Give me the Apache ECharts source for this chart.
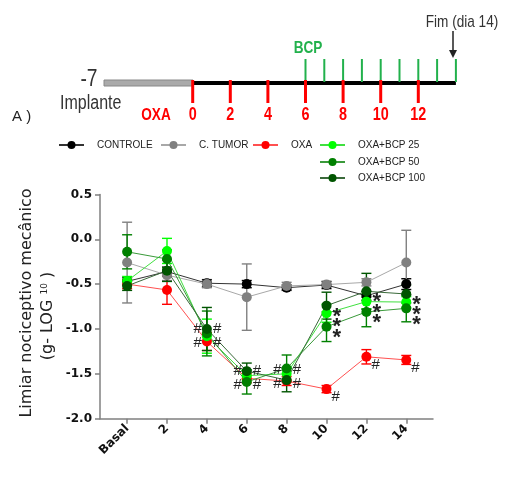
<!DOCTYPE html>
<html><head><meta charset="utf-8">
<script src="https://cdn.jsdelivr.net/npm/echarts@6/dist/echarts.min.js"></script>
<style>html,body{margin:0;padding:0;background:#fff}#c{width:505px;height:477px}</style>
</head><body><div id="c"></div>
<script>
// ---- data ----
const categories = ["Basal", "2", "4", "6", "8", "10", "12", "14"];
const yTicks = [-2.0, -1.5, -1.0, -0.5, 0.0, 0.5];

const controle    = [-0.47, -0.36, -0.49, -0.50, -0.54, -0.51, -0.63, -0.50];
const controleErr = [0.04, 0.05, 0.04, 0.04, 0.03, 0.04, 0.05, 0.06];
const controleSig = ["", "", "", "", "", "", "", ""];

const cTumor    = [-0.26, -0.40, -0.50, -0.645, -0.52, -0.505, -0.48, -0.26];
const cTumorErr = [0.45, 0.06, 0.04, 0.37, 0.04, 0.03, 0.04, 0.36];
const cTumorSig = ["", "", "", "", "", "", "", ""];

const oxa    = [-0.50, -0.565, -1.14, -1.55, -1.58, -1.67, -1.31, -1.345];
const oxaErr = [0.05, 0.16, 0.10, 0.05, 0.05, 0.04, 0.08, 0.05];
const oxaSig = ["", "", "#", "#", "#", "#", "#", "#"];

const bcp25    = [-0.465, -0.13, -1.08, -1.52, -1.50, -0.825, -0.695, -0.70];
const bcp25Err = [0.05, 0.14, 0.19, 0.06, 0.07, 0.10, 0.08, 0.06];
const bcp25Sig = ["", "", "#", "#", "#", "*", "*", "*"];

const bcp50    = [-0.14, -0.22, -1.05, -1.59, -1.44, -0.975, -0.81, -0.77];
const bcp50Err = [0.19, 0.10, 0.25, 0.135, 0.15, 0.165, 0.165, 0.15];
const bcp50Sig = ["", "", "#", "#", "#", "*", "*", "*"];

const bcp100    = [-0.52, -0.35, -1.00, -1.47, -1.57, -0.74, -0.58, -0.61];
const bcp100Err = [0.05, 0.12, 0.24, 0.09, 0.13, 0.15, 0.20, 0.10];
const bcp100Sig = ["", "", "#", "#", "#", "*", "*", "*"];

// timeline schematic
const oxaDays = [0, 2, 4, 6, 8, 10, 12];
const bcpDays = [6, 7, 8, 9, 10, 11, 12, 13, 14];

// ---- chart ----
const groups = [
  {name: "CONTROLE", color: "#000000", line: "#333333", vals: controle, err: controleErr, sig: controleSig},
  {name: "C. TUMOR", color: "#808080", line: "#a8a8a8", vals: cTumor, err: cTumorErr, sig: cTumorSig},
  {name: "OXA", color: "#ff0000", line: "#ff5050", vals: oxa, err: oxaErr, sig: oxaSig},
  {name: "OXA+BCP 25", color: "#00ff00", line: "#40e040", vals: bcp25, err: bcp25Err, sig: bcp25Sig},
  {name: "OXA+BCP 50", color: "#008000", line: "#3a9a3a", vals: bcp50, err: bcp50Err, sig: bcp50Sig},
  {name: "OXA+BCP 100", color: "#005500", line: "#3a6a3a", vals: bcp100, err: bcp100Err, sig: bcp100Sig}
];

const series = [];
groups.forEach((g, gi) => {
  series.push({
    type: 'custom', silent: true, z: 2,
    data: g.vals.map((v, i) => [i, v - g.err[i], v + g.err[i]]),
    encode: {x: 0, y: [1, 2]},
    renderItem: (params, api) => {
      const x = api.value(0);
      const p1 = api.coord([x, api.value(2)]);
      const p2 = api.coord([x, api.value(1)]);
      const w = 5;
      const st = {stroke: g.color, lineWidth: 1.4};
      return {type: 'group', children: [
        {type: 'line', shape: {x1: p1[0], y1: p1[1], x2: p2[0], y2: p2[1]}, style: st},
        {type: 'line', shape: {x1: p1[0] - w, y1: p1[1], x2: p1[0] + w, y2: p1[1]}, style: st},
        {type: 'line', shape: {x1: p2[0] - w, y1: p2[1], x2: p2[0] + w, y2: p2[1]}, style: st}
      ]};
    }
  });
});
groups.forEach((g, gi) => {
  series.push({
    type: 'line', name: g.name, z: 3,
    data: g.vals.map((v, i) => [i, v]),
    symbol: 'circle', symbolSize: 10,
    itemStyle: {color: g.color, opacity: 1},
    lineStyle: {color: g.line, width: 1},
    emphasis: {disabled: true},
    animation: false
  });
});

// annotations (# and *) computed from data
const anns = [];
const slot = {"OXA+BCP 100": [-1, -1], "OXA+BCP 50": [1, -1], "OXA+BCP 25": [-1, 1], "OXA": [1, 1]};
groups.forEach(g => {
  g.sig.forEach((s, i) => {
    if (!s) return;
    let mode = 'near';
    let groupMean = null;
    if (s === '#' && i >= 2 && i <= 4) {
      const vs = groups.filter(h => h.sig[i] === '#').map(h => h.vals[i]);
      groupMean = vs.reduce((a, b) => a + b, 0) / vs.length;
      mode = 'slot';
    }
    anns.push({x: i, y: g.vals[i], text: s, mode, mean: groupMean, slot: slot[g.name]});
  });
});
// star stacking: order within each day (top to bottom)
const starRank = {};
categories.forEach((c, i) => {
  const st = anns.filter(a => a.text === '*' && a.x === i).sort((a, b) => b.y - a.y);
  st.forEach((a, k) => { a.rank = k; a.firstY = st[0].y; });
});
series.push({
  type: 'custom', silent: true, z: 5,
  data: anns.map(a => [a.x, a.y]),
  encode: {x: 0, y: 1},
  renderItem: (params, api) => {
    const a = anns[params.dataIndex];
    const p = api.coord([a.x, a.y]);
    let x, y, align = 'left';
    if (a.mode === 'slot') {
      const pm = api.coord([a.x, a.mean]);
      y = pm[1] + a.slot[1] * 7 + 1;
      if (a.slot[0] < 0) { x = p[0] - 5; align = 'right'; } else { x = p[0] + 6; }
    } else if (a.text === '*') {
      const p0 = api.coord([a.x, a.firstY]);
      x = p[0] + 6;
      y = Math.max(p[1] + 5, p0[1] + 5 + a.rank * 10) + 6;
    } else {
      x = p[0] + 5;
      y = p[1] + 8;
    }
    const font = a.text === '*' ? 'bold 22px "Liberation Sans", Arial, sans-serif' : '15px "Liberation Sans", Arial, sans-serif';
    return {type: 'text', x, y, style: {text: a.text, font, fill: '#222', align, verticalAlign: 'middle'}};
  }
});

const legendFont = {fontFamily: '"Liberation Sans", Arial, sans-serif', fontSize: 10, color: '#222', padding: [0, 0, 0, 8]};
const legendPos = [[58, 146], [160, 146], [252, 146], [319, 146], [319, 163], [319, 179]];
const legends = groups.map((g, i) => ({
  data: [g.name], left: legendPos[i][0], top: legendPos[i][1] - 6, padding: 0,
  itemWidth: 25, itemHeight: 10, textStyle: legendFont, selectedMode: false
}));

const dayX = d => 192.7 + 18.8 * d;
const narrow = '"Liberation Sans", Arial, sans-serif';
const nt = (text, x, y, size, color, bold, align) => ({
  type: 'text', x, y, scaleX: 0.8, scaleY: 1,
  style: {text, font: (bold ? 'bold ' : '') + size + 'px ' + narrow, fill: color, align: align || 'center', verticalAlign: 'middle'}
});
const graphics = [
  {type: 'rect', shape: {x: 104, y: 80, width: 89, height: 6}, style: {fill: '#aaaaaa', stroke: '#888888', lineWidth: 1}},
  {type: 'line', shape: {x1: dayX(0), y1: 83, x2: dayX(14), y2: 83}, style: {stroke: '#000', lineWidth: 4}},
  nt('-7', 89, 79, 24, '#333', false),
  nt('Implante', 60, 103, 20, '#333', false, 'left'),
  nt('OXA', 156, 115, 17, '#ff0000', true),
  nt('BCP', 308, 48, 17, '#22b14c', true),
  nt('Fim (dia 14)', 462, 22, 17, '#333', false),
  {type: 'line', shape: {x1: 453, y1: 31, x2: 453, y2: 52}, style: {stroke: '#222', lineWidth: 1.5}},
  {type: 'polygon', shape: {points: [[449, 50], [457, 50], [453, 58]]}, style: {fill: '#222'}},
  {type: 'text', x: 12, y: 117, style: {text: 'A )', font: '15px "Liberation Sans", Arial, sans-serif', fill: '#222', align: 'left', verticalAlign: 'middle'}},
  {type: 'text', x: 27, y: 303, rotation: Math.PI / 2, style: {text: 'Limiar nociceptivo mecânico', font: '16px "DejaVu Sans", sans-serif', fill: '#222', align: 'center', verticalAlign: 'middle'}},
  {type: 'text', x: 48, y: 316, rotation: Math.PI / 2, style: {text: '(g- LOG {sup|10} )', font: '16px "DejaVu Sans", sans-serif', fill: '#222', align: 'center', verticalAlign: 'middle',
    rich: {sup: {fontSize: 9, fontFamily: '"DejaVu Sans", sans-serif', verticalAlign: 'top', padding: [0, 0, 7, 0]}}}}
];
bcpDays.forEach(d => graphics.push({type: 'line', shape: {x1: dayX(d), y1: 59, x2: dayX(d), y2: 82}, style: {stroke: '#22b14c', lineWidth: 2}}));
oxaDays.forEach(d => {
  graphics.push({type: 'line', shape: {x1: dayX(d), y1: 80, x2: dayX(d), y2: 103}, style: {stroke: '#ff0000', lineWidth: 3}});
  graphics.push(nt(String(d), dayX(d), 115, 18, '#ff0000', true));
});

const axisFont = {fontFamily: '"DejaVu Sans", sans-serif', fontWeight: 'bold', fontSize: 12, color: '#111'};
const option = {
  animation: false,
  backgroundColor: '#fff',
  legend: legends,
  graphic: graphics,
  grid: {left: 100, right: 72, top: 194.4, bottom: 58.3, containLabel: false},
  xAxis: {
    type: 'value', min: -0.68, max: 7.67,
    axisLine: {onZero: false, lineStyle: {color: '#808080', width: 1.5}},
    axisTick: {show: true, customValues: categories.map((c, i) => i), length: 5, lineStyle: {color: '#808080', width: 1.5}},
    axisLabel: {customValues: categories.map((c, i) => i), formatter: v => categories[Math.round(v)], rotate: 45, margin: 8, ...axisFont},
    splitLine: {show: false}
  },
  yAxis: {
    type: 'value', min: -2, max: 0.5, interval: 0.5,
    axisLine: {show: true, onZero: false, lineStyle: {color: '#808080', width: 1.5}},
    axisTick: {show: true, length: 5, lineStyle: {color: '#808080', width: 1.5}},
    axisLabel: {formatter: v => v.toFixed(1), margin: 8, ...axisFont},
    splitLine: {show: false}
  },
  series
};
const chart = echarts.init(document.getElementById('c'), null, {renderer: 'canvas'});
chart.setOption(option);
</script>
</body></html>
